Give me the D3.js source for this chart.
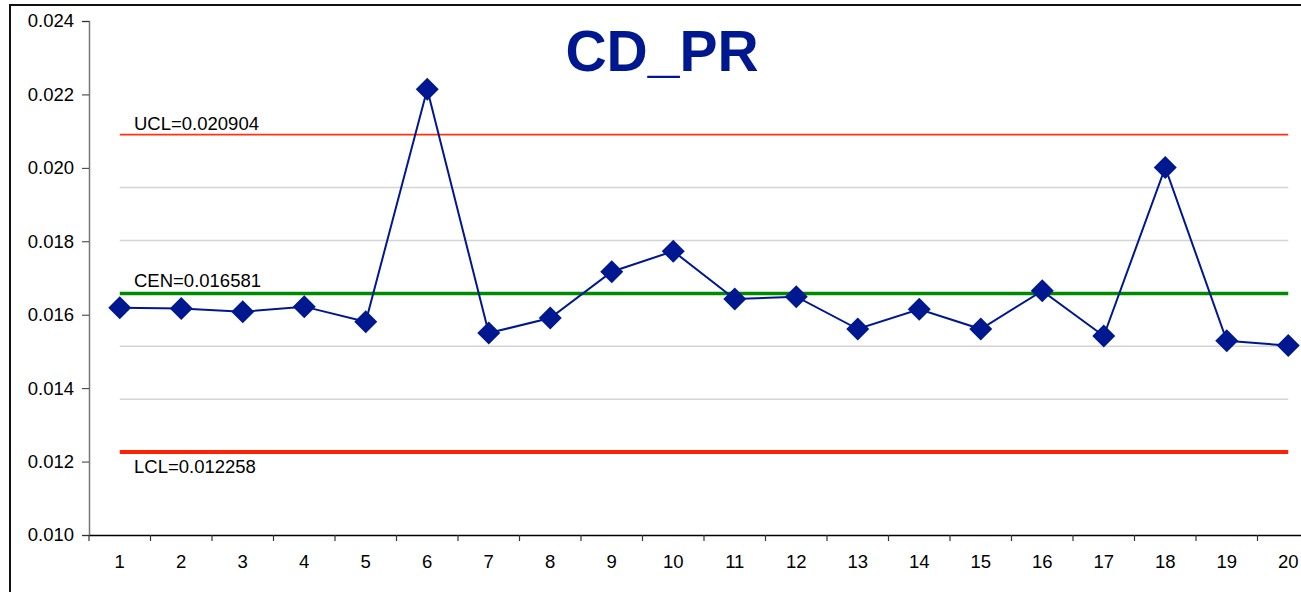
<!DOCTYPE html>
<html>
<head>
<meta charset="utf-8">
<script src="https://cdn.jsdelivr.net/npm/d3@7"></script>
<style>
  html, body { margin: 0; padding: 0; background: #fff; }
  svg { display: block; font-family: "Liberation Sans", Arial, sans-serif; }
</style>
</head>
<body>
<svg id="chart" width="1301" height="592"></svg>
<script>
const categories = ["1","2","3","4","5","6","7","8","9","10","11","12","13","14","15","16","17","18","19","20"];
const values = [0.01619, 0.01617, 0.01608, 0.01622, 0.01581, 0.02214, 0.01550, 0.01591, 0.01717, 0.01773,
                0.01643, 0.01649, 0.01561, 0.01615, 0.01561, 0.01665, 0.01542, 0.02001, 0.01529, 0.01516];
const yTicks = [0.010, 0.012, 0.014, 0.016, 0.018, 0.020, 0.022, 0.024];
const UCL = 0.020904, CEN = 0.016581, LCL = 0.012258;
const sigma = (UCL - CEN) / 3;
const sigmaLines = [CEN + 2 * sigma, CEN + sigma, CEN - sigma, CEN - 2 * sigma];
const title = "CD_PR";

const svg = d3.select("#chart");
const navy = "#00188f";
const fs = 18.5;
const ff = "Liberation Sans, Arial, sans-serif";

// outer frame
svg.append("rect").attr("x", 10).attr("y", 5).attr("width", 1400).attr("height", 700)
  .attr("fill", "none").attr("stroke", "#111").attr("stroke-width", 2);

const x = d3.scaleBand().domain(categories).range([89, 89 + 61.5 * 20]);
const y = d3.scaleLinear().domain([0.010, 0.024]).range([535, 21]);
const cx = c => x(c) + x.bandwidth() / 2;
const x0 = cx(categories[0]), x1 = cx(categories[categories.length - 1]);

// sigma lines (gray)
svg.append("g").selectAll("line").data(sigmaLines).join("line")
  .attr("x1", x0).attr("x2", x1)
  .attr("y1", d => y(d)).attr("y2", d => y(d))
  .attr("stroke", "#d4d4d4").attr("stroke-width", 1.5);

// y axis
const yAxis = svg.append("g").attr("transform", "translate(89,0)")
  .call(d3.axisLeft(y).tickValues(yTicks).tickFormat(d3.format(".3f")).tickSize(7).tickPadding(8));
yAxis.attr("font-size", fs).attr("font-family", ff);
yAxis.select(".domain").attr("stroke", "#777").attr("stroke-width", 1.5);
yAxis.selectAll(".tick line").attr("stroke", "#333");
yAxis.selectAll("text").attr("fill", "#000");

// x axis
const xAxis = svg.append("g").attr("transform", "translate(0,535)")
  .call(d3.axisBottom(x).tickSize(0).tickPadding(20));
xAxis.attr("font-size", fs).attr("font-family", ff);
xAxis.select(".domain").attr("stroke", "#000").attr("stroke-width", 1.5);
xAxis.selectAll("text").attr("fill", "#000");
// boundary ticks between categories
svg.append("g").selectAll("line").data(categories).join("line")
  .attr("x1", d => x(d)).attr("x2", d => x(d))
  .attr("y1", 535).attr("y2", 541)
  .attr("stroke", "#333").attr("stroke-width", 1.2);

// control lines
svg.append("line").attr("x1", x0).attr("x2", x1).attr("y1", y(UCL)).attr("y2", y(UCL))
  .attr("stroke", "#ff3311").attr("stroke-width", 1.6);
svg.append("line").attr("x1", x0).attr("x2", x1).attr("y1", y(CEN)).attr("y2", y(CEN))
  .attr("stroke", "#008a00").attr("stroke-width", 3.5);
svg.append("line").attr("x1", x0).attr("x2", x1).attr("y1", y(LCL)).attr("y2", y(LCL))
  .attr("stroke", "#ff2200").attr("stroke-width", 4);

svg.append("text").attr("x", 134).attr("y", y(UCL) - 5).attr("font-size", fs).attr("font-family", ff).text("UCL=" + UCL.toFixed(6));
svg.append("text").attr("x", 134).attr("y", y(CEN) - 6).attr("font-size", fs).attr("font-family", ff).text("CEN=" + CEN.toFixed(6));
svg.append("text").attr("x", 134).attr("y", y(LCL) + 21).attr("font-size", fs).attr("font-family", ff).text("LCL=" + LCL.toFixed(6));

// data line
const line = d3.line().x((d, i) => cx(categories[i])).y(d => y(d));
svg.append("path").datum(values).attr("d", line)
  .attr("fill", "none").attr("stroke", navy).attr("stroke-width", 2);

// diamond markers
svg.append("g").selectAll("path").data(values).join("path")
  .attr("transform", (d, i) => `translate(${cx(categories[i])},${y(d)})`)
  .attr("d", "M0,-11.5L11.5,0L0,11.5L-11.5,0Z")
  .attr("fill", navy);

// title
svg.append("text").attr("x", 662).attr("y", 71).attr("text-anchor", "middle")
  .attr("font-size", 57).attr("font-weight", "bold").attr("font-family", ff).attr("fill", navy).text(title);
</script>
</body>
</html>
